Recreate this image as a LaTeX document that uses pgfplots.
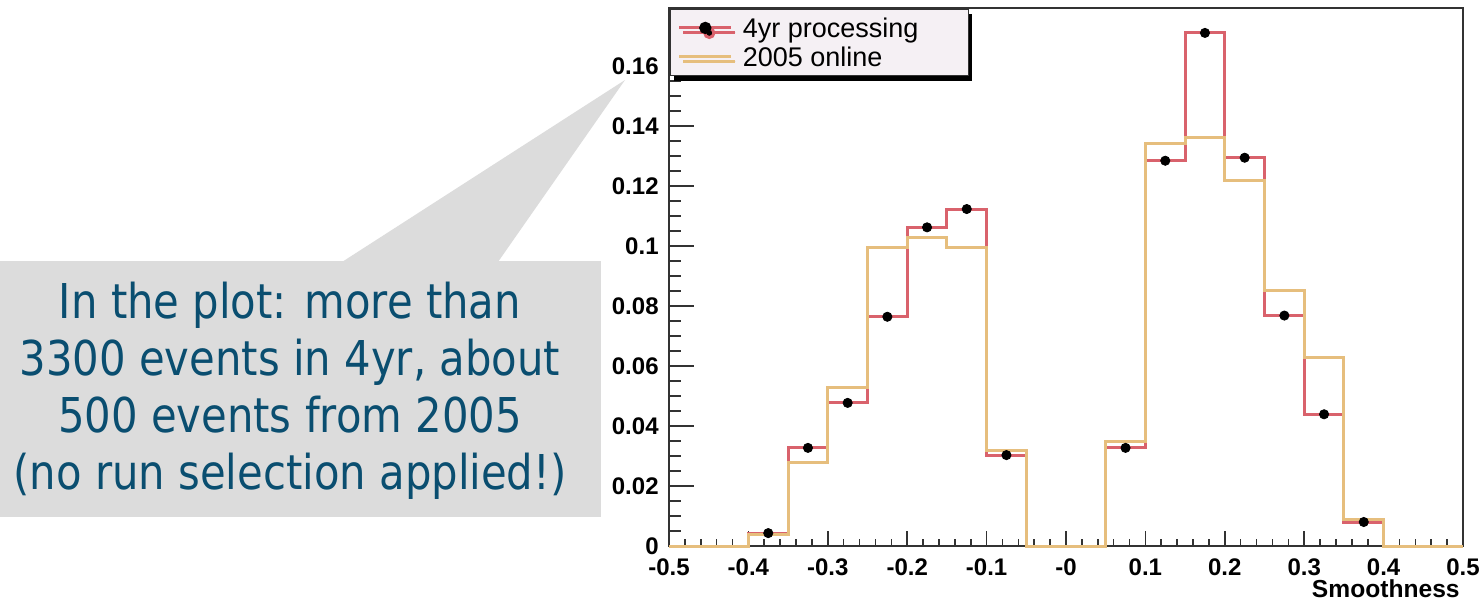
\documentclass[border=0pt]{standalone}
\usepackage{pgfplots}
\pgfplotsset{compat=1.18}
\usepackage{pgfplotstable}
\usepackage{fontspec}
\setmainfont{Liberation Sans}
\newfontfamily\calloutfont[FakeStretch=0.87]{DejaVu Sans}
\usetikzlibrary{shadows}
\definecolor{redh}{RGB}{217,98,108}
\definecolor{orah}{RGB}{230,190,125}
\definecolor{legbg}{RGB}{245,240,244}
\definecolor{boxgray}{RGB}{220,220,220}
\definecolor{txtblue}{RGB}{10,78,112}
\definecolor{axgray}{RGB}{50,50,50}

\pgfplotstableread{
x y
-0.50 0
-0.45 0
-0.40 0.0043
-0.35 0.0327
-0.30 0.0477
-0.25 0.0764
-0.20 0.1062
-0.15 0.1123
-0.10 0.0303
-0.05 0
0.00 0
0.05 0.0327
0.10 0.1284
0.15 0.1710
0.20 0.1294
0.25 0.0768
0.30 0.0439
0.35 0.0080
0.40 0
0.45 0
0.50 0
}\fouryr

\pgfplotstableread{
x y
-0.50 0
-0.45 0
-0.40 0.0037
-0.35 0.0277
-0.30 0.0527
-0.25 0.0994
-0.20 0.1028
-0.15 0.0994
-0.10 0.0317
-0.05 0
0.00 0
0.05 0.0347
0.10 0.1342
0.15 0.1362
0.20 0.1219
0.25 0.0852
0.30 0.0629
0.35 0.0090
0.40 0
0.45 0
0.50 0
}\online

\pgfplotstableread{
x y
-0.375 0.0043
-0.325 0.0327
-0.275 0.0477
-0.225 0.0764
-0.175 0.1062
-0.125 0.1123
-0.075 0.0303
0.075 0.0327
0.125 0.1284
0.175 0.1710
0.225 0.1294
0.275 0.0768
0.325 0.0439
0.375 0.0080
}\fouryrpts

\begin{document}
\begin{tikzpicture}
\useasboundingbox (-334.5pt,-27.5pt) rectangle (406pt,273pt);
% callout
\fill[boxgray] (-334.5pt,14.5pt) rectangle (-34pt,142.5pt);
\fill[boxgray] (-163.5pt,142pt) -- (-22pt,233pt) -- (-85.5pt,142pt) -- cycle;
\begin{scope}[every node/.style={text=txtblue, inner sep=0pt, anchor=base, font=\calloutfont\fontsize{24}{28.5}\selectfont}]
\node at (-189.5pt,114pt) {In the plot: more than};
\node at (-189.5pt,85.5pt) {3300 events in 4yr, about};
\node at (-189.5pt,57pt) {500 events from 2005};
\node at (-189.5pt,28.5pt) {(no run selection applied!)};
\end{scope}
\begin{axis}[
  name=ax, at={(0,0)}, anchor=south west,
  scale only axis, width=397pt, height=269pt,
  xmin=-0.5, xmax=0.5, ymin=0, ymax=0.1793,
  clip=false,
  tick pos=left, tick align=inside,
  axis line style={axgray, line width=0.8pt},
  xtick={-0.5,-0.4,-0.3,-0.2,-0.1,0,0.1,0.2,0.3,0.4,0.5},
  xticklabels={-0.5,-0.4,-0.3,-0.2,-0.1,-0,0.1,0.2,0.3,0.4,0.5},
  minor x tick num=4,
  ytick={0,0.02,0.04,0.06,0.08,0.1,0.12,0.14,0.16},
  minor y tick num=3,
  xtick style={axgray, line width=0.8pt, /pgfplots/major tick length=7.5pt, /pgfplots/minor tick length=3.5pt},
  ytick style={axgray, line width=0.8pt, /pgfplots/major tick length=12.5pt, /pgfplots/minor tick length=6pt},
  ticklabel style={font=\bfseries\fontsize{12}{14}\selectfont, text=black, inner sep=1pt},
  xticklabel style={yshift=-5pt},
  /pgf/number format/assume math mode=true,
  yticklabel style={/pgf/number format/fixed, /pgf/number format/precision=2, xshift=-4pt},
  scaled y ticks=false,
  legend cell align=left,
  legend style={at={(0,1)}, anchor=north west, fill=legbg, draw=axgray, line width=0.8pt,
    font=\fontsize{13.5}{15}\selectfont, inner xsep=4pt, inner ysep=2.6pt, row sep=0.35pt,
    nodes={inner ysep=2pt, text height=9.9pt, text depth=0pt},
    drop shadow={shadow xshift=2pt, shadow yshift=-2.5pt, fill=black, opacity=1}},
]
\addplot[redh, line width=1.5pt, const plot,
  legend image code/.code={\draw[redh, line width=1.5pt] (0pt,0pt) -- (26pt,0pt); \fill[black] (13pt,0pt) circle (2.3pt);}]
  table[x=x, y=y] {\fouryr};
\addlegendentry{\hspace{3pt}4yr processing\hspace{19pt}\mbox{}}
\addplot[orah, line width=1.5pt, const plot,
  legend image code/.code={\draw[orah, line width=1.5pt] (0pt,0pt) -- (26pt,0pt);}]
  table[x=x, y=y] {\online};
\addlegendentry{\hspace{3pt}2005 online}
\addplot[only marks, mark=*, mark size=2.3pt, black, forget plot] table[x=x, y=y] {\fouryrpts};
\end{axis}
\node[anchor=base east, inner sep=0pt, font=\bfseries\fontsize{12.3}{14}\selectfont] at ([xshift=-1.5pt, yshift=-25.5pt]ax.south east) {Smoothness};
\end{tikzpicture}
\end{document}
